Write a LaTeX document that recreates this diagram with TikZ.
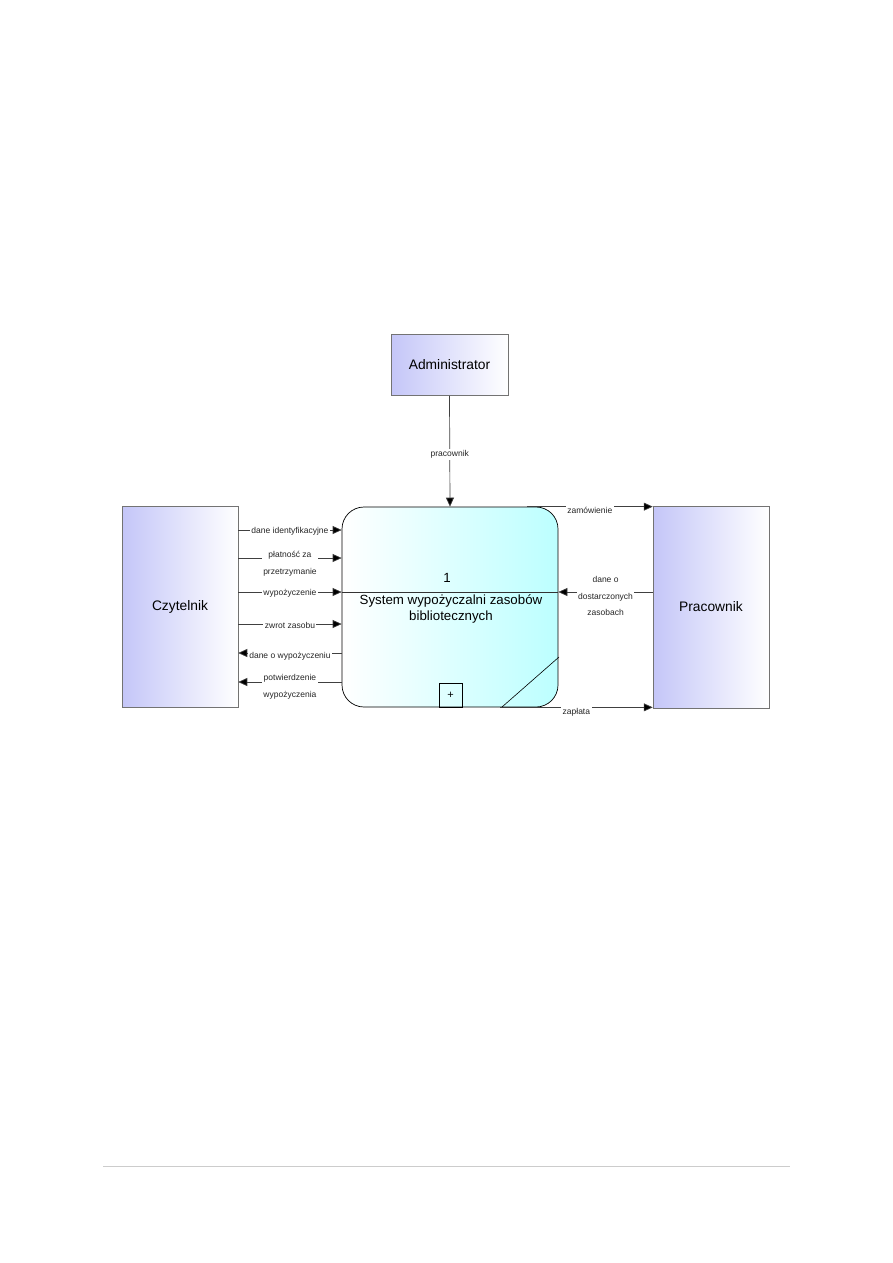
\documentclass[tikz,border=0pt]{standalone}
\usepackage{fontspec}
\setmainfont{Liberation Sans}
\usetikzlibrary{arrows.meta}
\definecolor{entblue}{RGB}{196,198,248}
\definecolor{proccyan}{RGB}{188,255,255}
\begin{document}
\begin{tikzpicture}[x=1pt,y=-1pt,
  entity/.style={draw=black!55, line width=0.5pt, left color=entblue, right color=white,
    inner sep=0pt, font=\fontsize{13.8}{16}\selectfont},
  procbox/.style={draw=black, line width=0.7pt, rounded corners=22pt, left color=white, right color=proccyan,
    inner sep=0pt, minimum width=216pt, minimum height=200pt},
  flow/.style={draw=black!75, line width=0.7pt, -{Triangle[length=9pt,width=8pt,fill=black]}},
  lbl/.style={fill=white, inner sep=1.5pt, align=center, font=\fontsize{8.5}{16.5}\selectfont, text=black!85}]
\useasboundingbox (0,0) rectangle (893,1263);

% nodes
\node[entity, minimum width=117pt, minimum height=61pt] (adm) at (449.5,365) {Administrator};
\node[entity, minimum width=116pt, minimum height=201pt] (czyt) at (180,606.5) {Czytelnik};
\node[entity, minimum width=116pt, minimum height=202pt] (prac) at (711,607) {Pracownik};
\node[procbox] (proc) at (450,607) {};
\draw[black!80, line width=0.6pt] (proc.west |- 0,592) -- (proc.east |- 0,592);
\node[font=\fontsize{13.3}{15}\selectfont] (pnum) at (447,578) {1};
\node[font=\fontsize{13.3}{15.5}\selectfont, align=center, inner sep=0pt] (ptxt) at (451,609) {System wypożyczalni zasobów\\bibliotecznych};
\node[draw=black, line width=0.6pt, minimum width=23pt, minimum height=24pt, inner sep=0pt, font=\fontsize{11}{12}\selectfont] (plus) at (450.5,695) {+};
\draw[black, line width=0.6pt] (502,707) -- (559,657);

% Administrator -> process
\draw[flow] (adm.south) -- node[lbl, pos=0.53]{pracownik} (proc.north);

% Czytelnik <-> process
\draw[flow] (czyt.east |- 0,530) -- node[lbl, yshift=-1pt]{dane identyfikacyjne} (proc.west |- 0,530);
\draw[flow] (czyt.east |- 0,558) -- node[lbl, yshift=-5.5pt]{płatność za\\przetrzymanie} (proc.west |- 0,558);
\draw[flow] (czyt.east |- 0,592) -- node[lbl, yshift=-1pt]{wypożyczenie} (proc.west |- 0,592);
\draw[flow] (czyt.east |- 0,624) -- node[lbl, yshift=-1pt]{zwrot zasobu} (proc.west |- 0,624);
\draw[flow] (proc.west |- 0,653) -- node[lbl, yshift=-3pt]{dane o wypożyczeniu} (czyt.east |- 0,653);
\draw[flow] (proc.west |- 0,682) -- node[lbl, yshift=-5pt]{potwierdzenie\\wypożyczenia} (czyt.east |- 0,682);

% process <-> Pracownik
\draw[flow] ([xshift=77pt]proc.north) -- node[lbl, yshift=-4pt]{zamówienie} (prac.west |- proc.north);
\draw[flow] (prac.west |- 0,592) -- node[lbl, yshift=-4pt]{dane o\\dostarczonych\\zasobach} (proc.east |- 0,592);
\draw[flow] ([xshift=50pt]proc.south) -- node[lbl, pos=0.5, yshift=-5pt]{zapłata} (prac.west |- proc.south);

% footer rule
\draw[black!20, line width=1pt] (103,1166) -- (790,1166);
\end{tikzpicture}
\end{document}
